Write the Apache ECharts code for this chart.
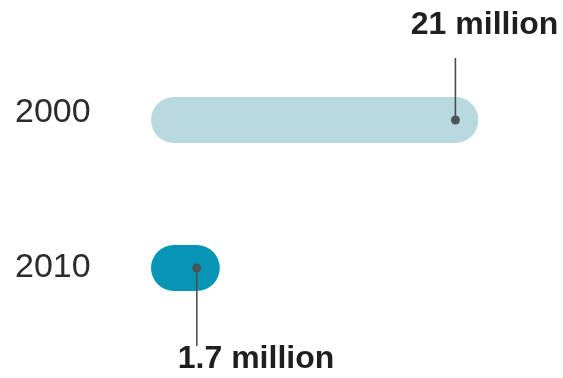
<!DOCTYPE html>
<html>
<head>
<meta charset="utf-8">
<script src="https://cdn.jsdelivr.net/npm/echarts@6/dist/echarts.min.js"></script>
<style>
  html, body { margin: 0; padding: 0; background: #fff; }
  #chart { width: 563px; height: 378px; }
</style>
</head>
<body>
<div id="chart"></div>
<script>
// Years shown on the vertical axis, top to bottom
const years = ['2000', '2010'];
// Values in millions
const values = [21, 1.7];
// Annotation text for each bar
const valueLabels = ['21 million', '1.7 million'];
const barColors = ['#b8d9df', '#0795b6'];

const BAR_H = 46;
const R = BAR_H / 2;
const FONT = 'Liberation Sans, Arial, Helvetica, sans-serif';

const chart = echarts.init(document.getElementById('chart'));

chart.setOption({
  animation: false,
  grid: { left: 174, right: 54, top: 46, bottom: 36 },
  xAxis: {
    type: 'value', min: 0, max: 25,
    show: false
  },
  yAxis: {
    type: 'category',
    data: years,
    inverse: true,
    axisLine: { show: false },
    axisTick: { show: false },
    splitLine: { show: false },
    axisLabel: {
      margin: 159,
      align: 'left',
      formatter: function (v, i) {
        return i === 0 ? '{top|' + v + '}' : '{bot|' + v + '}';
      },
      rich: {
        top: { fontFamily: FONT, fontSize: 34, color: '#2b2b2b', padding: [0, 0, 14, 0] },
        bot: { fontFamily: FONT, fontSize: 34, color: '#2b2b2b', padding: [0, 0, 0, 0] }
      }
    }
  },
  series: [{
    type: 'custom',
    data: values.map((v, i) => [v, i]),
    encode: { x: 0, y: 1 },
    renderItem: function (params, api) {
      const i = params.dataIndex;
      const v = api.value(0);
      const start = api.coord([0, i]);
      const end = api.coord([v, i]);
      const cy = start[1];
      const above = i === 0;
      const lineEndY = above ? cy - 62 : cy + 78;
      const children = [
        {
          type: 'rect',
          shape: { x: start[0] - R, y: cy - R, width: end[0] - start[0] + 2 * R, height: BAR_H, r: R },
          style: { fill: barColors[i] }
        },
        {
          type: 'line',
          shape: { x1: end[0], y1: cy, x2: end[0], y2: lineEndY },
          style: { stroke: '#4d4d4d', lineWidth: 1.6 }
        },
        {
          type: 'circle',
          shape: { cx: end[0], cy: cy, r: 4.5 },
          style: { fill: '#4a5558' }
        },
        {
          type: 'text',
          style: {
            text: valueLabels[i],
            x: above ? end[0] + 103 : end[0] - 19,
            y: above ? cy - 95 : cy + 91,
            align: above ? 'right' : 'left',
            verticalAlign: 'middle',
            fontFamily: FONT,
            fontWeight: 'bold',
            fontSize: 32,
            fill: '#1f1f1f'
          }
        }
      ];
      return { type: 'group', children: children };
    }
  }]
});
</script>
</body>
</html>
